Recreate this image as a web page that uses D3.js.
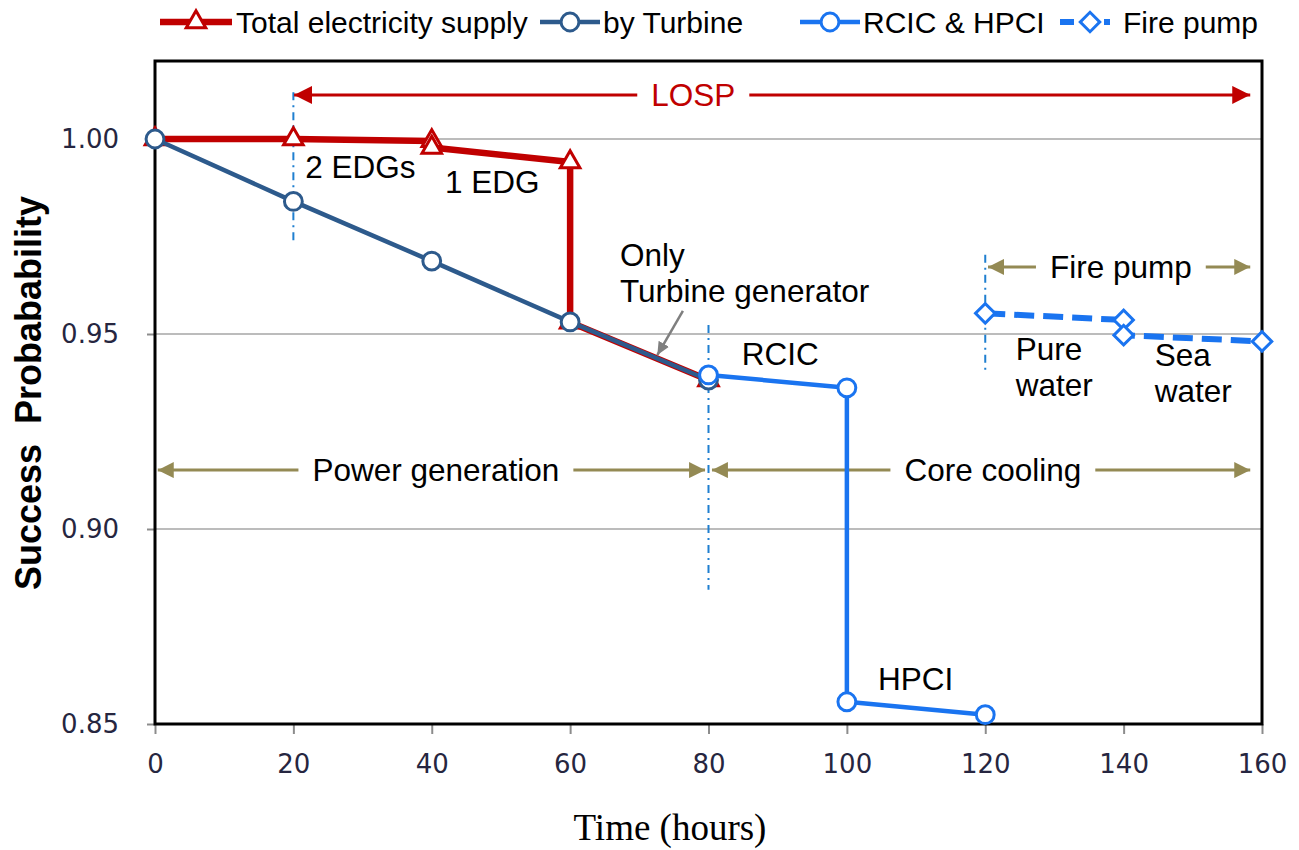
<!DOCTYPE html>
<html>
<head>
<meta charset="utf-8">
<script src="https://cdn.jsdelivr.net/npm/d3@7"></script>
<style>
  body { margin: 0; background: #fff; }
  svg { display: block; }
</style>
</head>
<body>
<script>
// values (hours, success probability)
const supplyHours = [0, 20, 40, 40, 60, 60, 80];
const supplyProb  = [1.0000, 1.0000, 0.9995, 0.9978, 0.9941, 0.9530, 0.9382];
const turbineHours = [0, 20, 40, 60, 80];
const turbineProb  = [1.0000, 0.9840, 0.9687, 0.9531, 0.9382];
const coolHours = [80, 100, 100, 120];
const coolProb  = [0.9395, 0.9362, 0.8557, 0.8524];
const pumpHours = [120, 140, 140, 160];
const pumpProb  = [0.9553, 0.9536, 0.9497, 0.9481];

const xTicks = [0, 20, 40, 60, 80, 100, 120, 140, 160];
const yTicks = [0.85, 0.90, 0.95, 1.00];

const seriesNames = ["Total electricity supply", "by Turbine", "RCIC & HPCI", "Fire pump"];

// free text notes, in data units [hours, prob]
const noteText = ["2 EDGs", "1 EDG", "Only", "Turbine generator", "RCIC", "HPCI", "Pure", "water", "Sea", "water"];
const noteHour = [21.7, 41.9, 67.2, 67.2, 84.8, 104.5, 124.4, 124.4, 144.5, 144.5];
const noteProb = [0.9900, 0.9862, 0.9674, 0.9582, 0.9421, 0.8587, 0.9433, 0.9341, 0.9418, 0.9326];

// span arrows: label, from, to (hours), level (prob), label centre (hours)
const spanLabel = ["LOSP", "Power generation", "Core cooling", "Fire pump"];
const spanFrom  = [20.1, 0.4, 80.5, 120.4];
const spanTo    = [158.3, 79.5, 158.3, 158.3];
const spanLevel = [1.0113, 0.9151, 0.9151, 0.9672];
const spanMid   = [77.8, 40.6, 121.1, 139.6];

// dash-dot event lines: hour, from prob, to prob
const eventHour = [20, 80, 120];
const eventTop  = [1.012, 0.9523, 0.9703];
const eventBot  = [0.9728, 0.8844, 0.9408];

const width = 1299, height = 850;
const margin = {top: 61, right: 37, bottom: 126, left: 155};

const red = "#c00000", navy = "#2d5a8c", blue = "#1a74f0", olive = "#948a54";

const x = d3.scaleLinear([0, 160], [margin.left, width - margin.right]);
const y = d3.scaleLinear([0.85, 1.02], [height - margin.bottom, margin.top]);

const svg = d3.select("body").append("svg")
    .attr("width", width)
    .attr("height", height)
    .attr("font-family", "Liberation Sans, Arial, sans-serif");

const defs = svg.append("defs");
[["head-red", red, 18, 9], ["head-olive", olive, 16, 8], ["head-gray", "#7f7f7f", 13, 6]].forEach(([id, c, l, w]) => {
  defs.append("marker")
      .attr("id", id)
      .attr("markerUnits", "userSpaceOnUse")
      .attr("viewBox", `0 ${-w} ${l} ${2 * w}`)
      .attr("refX", l).attr("refY", 0)
      .attr("markerWidth", l).attr("markerHeight", 2 * w)
      .attr("orient", "auto-start-reverse")
    .append("path")
      .attr("d", `M0,${-w}L${l},0L0,${w}Z`)
      .attr("fill", c);
});

// grid
svg.append("g")
    .attr("stroke", "#a6a6a6")
    .attr("stroke-width", 1.5)
  .selectAll("line")
  .data(yTicks.filter(d => d > 0.85))
  .join("line")
    .attr("x1", x(0)).attr("x2", x(160))
    .attr("y1", d => y(d)).attr("y2", d => y(d));

// axes
svg.append("g")
    .attr("transform", `translate(0,${y(0.85)})`)
    .call(d3.axisBottom(x).tickValues(xTicks).tickSize(10).tickPadding(21).tickSizeOuter(0))
    .attr("font-family", "DejaVu Sans, Verdana, sans-serif")
    .attr("font-size", 26)
    .call(g => g.select(".domain").remove())
    .call(g => g.selectAll(".tick line").attr("stroke", "#8c8c8c").attr("stroke-width", 2))
    .call(g => g.selectAll(".tick text").attr("fill", "#262640"));

svg.append("g")
    .attr("transform", `translate(${x(0)},0)`)
    .call(d3.axisLeft(y).tickValues(yTicks).tickFormat(d3.format(".2f")).tickSize(8).tickPadding(28).tickSizeOuter(0))
    .attr("font-family", "DejaVu Sans, Verdana, sans-serif")
    .attr("font-size", 26)
    .call(g => g.select(".domain").remove())
    .call(g => g.selectAll(".tick line").attr("stroke", "#8c8c8c").attr("stroke-width", 2))
    .call(g => g.selectAll(".tick text").attr("fill", "#262640"));

// plot frame
svg.append("rect")
    .attr("x", x(0)).attr("y", y(1.02))
    .attr("width", x(160) - x(0))
    .attr("height", y(0.85) - y(1.02))
    .attr("fill", "none")
    .attr("stroke", "#000")
    .attr("stroke-width", 3);

// event lines
svg.append("g")
    .attr("stroke", "#1f7fd0")
    .attr("stroke-width", 2)
    .attr("stroke-dasharray", "8,5,2,5")
  .selectAll("line")
  .data(eventHour)
  .join("line")
    .attr("x1", d => x(d)).attr("x2", d => x(d))
    .attr("y1", (d, i) => y(eventTop[i])).attr("y2", (d, i) => y(eventBot[i]));

// span arrows with labels
const spans = svg.append("g")
  .selectAll("g")
  .data(spanLabel)
  .join("g");

spans.append("line")
    .attr("x1", (d, i) => x(spanFrom[i])).attr("x2", (d, i) => x(spanTo[i]))
    .attr("y1", (d, i) => y(spanLevel[i])).attr("y2", (d, i) => y(spanLevel[i]))
    .attr("stroke", (d, i) => i == 0 ? red : olive)
    .attr("stroke-width", 3)
    .attr("marker-start", (d, i) => i == 0 ? "url(#head-red)" : "url(#head-olive)")
    .attr("marker-end", (d, i) => i == 0 ? "url(#head-red)" : "url(#head-olive)");

spans.append("text")
    .attr("x", (d, i) => x(spanMid[i]))
    .attr("y", (d, i) => y(spanLevel[i]))
    .attr("dy", "0.36em")
    .attr("text-anchor", "middle")
    .attr("font-size", 31.5)
    .attr("fill", (d, i) => i == 0 ? red : "#000")
    .text(d => d)
    .each(function() {
      const b = this.getBBox();
      d3.select(this.parentNode).insert("rect", "text")
          .attr("x", b.x - 14).attr("y", b.y)
          .attr("width", b.width + 28).attr("height", b.height)
          .attr("fill", "#fff");
    });

// series
const pts = (hs, ps) => hs.map((h, i) => [h, ps[i]]);
const line = d3.line().x(d => x(d[0])).y(d => y(d[1]));

function drawSeries(data, color, lw, symbol, size, dash) {
  const g = svg.append("g");
  g.append("path")
      .attr("d", line(data))
      .attr("fill", "none")
      .attr("stroke", color)
      .attr("stroke-width", lw)
      .attr("stroke-linejoin", "round")
      .attr("stroke-dasharray", dash || null);
  g.selectAll("path.mark")
    .data(data)
    .join("path")
      .attr("class", "mark")
      .attr("transform", d => `translate(${x(d[0])},${y(d[1])})` + (symbol == d3.symbolSquare ? " rotate(45)" : ""))
      .attr("d", d3.symbol(symbol, size))
      .attr("fill", "#fff")
      .attr("stroke", color)
      .attr("stroke-width", 3);
}

drawSeries(pts(supplyHours, supplyProb), red, 6.5, d3.symbolTriangle, 165);
drawSeries(pts(turbineHours, turbineProb), navy, 4.5, d3.symbolCircle, 250);
drawSeries(pts(coolHours, coolProb), blue, 4.5, d3.symbolCircle, 250);
drawSeries(pts(pumpHours, pumpProb), blue, 6, d3.symbolSquare, 190, "20,9");

// gray pointer to the shared segment
svg.append("line")
    .attr("x1", x(76.3)).attr("y1", y(0.9559))
    .attr("x2", x(72.6)).attr("y2", y(0.9446))
    .attr("stroke", "#7f7f7f")
    .attr("stroke-width", 2.5)
    .attr("marker-end", "url(#head-gray)");

// notes
svg.append("g")
    .attr("font-size", 31.5)
    .attr("fill", "#000")
  .selectAll("text")
  .data(noteText)
  .join("text")
    .attr("x", (d, i) => x(noteHour[i]))
    .attr("y", (d, i) => y(noteProb[i]))
    .text(d => d);

// legend
const legendX = [160, 540, 800, 1060];
const legendColor = [red, navy, blue, blue];
const legendSym = [d3.symbolTriangle, d3.symbolCircle, d3.symbolCircle, d3.symbolSquare];
const legendSize = [165, 250, 250, 190];
const legend = svg.append("g")
  .selectAll("g")
  .data(seriesNames)
  .join("g")
    .attr("transform", (d, i) => `translate(${legendX[i]},22)`);

legend.append("line")
    .attr("x1", 0).attr("x2", (d, i) => i == 0 ? 72 : 60)
    .attr("stroke", (d, i) => legendColor[i])
    .attr("stroke-width", (d, i) => i == 0 ? 6.5 : i == 3 ? 6 : 4.5)
    .attr("stroke-dasharray", (d, i) => i == 3 ? "14,30,6,20" : null);

legend.append("path")
    .attr("transform", (d, i) => `translate(${i == 0 ? 36 : 30},0)` + (i == 3 ? " rotate(45)" : ""))
    .attr("d", (d, i) => d3.symbol(legendSym[i], legendSize[i])())
    .attr("fill", "#fff")
    .attr("stroke", (d, i) => legendColor[i])
    .attr("stroke-width", 3);

legend.append("text")
    .attr("x", (d, i) => i == 0 ? 76 : 63)
    .attr("dy", "0.36em")
    .attr("font-size", 30)
    .text(d => d);

// axis titles
svg.append("text")
    .attr("x", 670).attr("y", 840)
    .attr("text-anchor", "middle")
    .attr("font-family", "Liberation Serif, Times New Roman, serif")
    .attr("font-size", 37)
    .text("Time (hours)");

svg.append("text")
    .attr("transform", "translate(41,393) rotate(-90)")
    .attr("text-anchor", "middle")
    .attr("font-size", 36)
    .attr("font-weight", "bold")
    .style("white-space", "pre")
    .text("Success  Probabability");
</script>
</body>
</html>
